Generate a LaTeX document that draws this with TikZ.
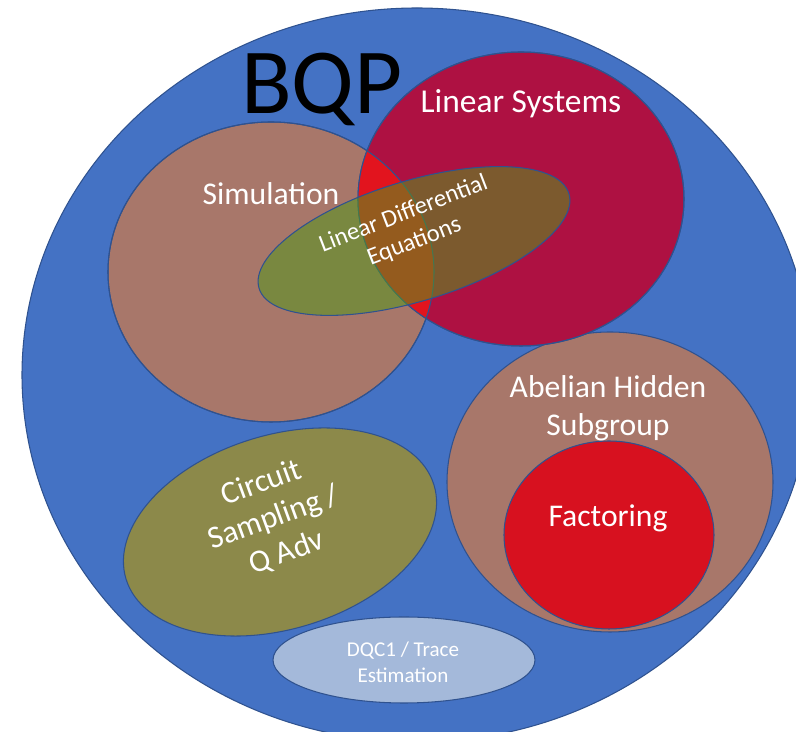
\documentclass[tikz,border=0pt]{standalone}
\usepackage{fontspec}
\setmainfont{Carlito}

\definecolor{bqpblue}{RGB}{68,114,196}
\definecolor{edge}{RGB}{47,82,143}
\definecolor{simbrown}{RGB}{168,119,106}
\definecolor{lincrimson}{RGB}{174,17,66}
\definecolor{lensred}{RGB}{226,20,30}
\definecolor{ldegreen}{RGB}{84,150,30}
\definecolor{facred}{RGB}{215,17,31}
\definecolor{circolive}{RGB}{140,137,74}
\definecolor{dqcblue}{RGB}{164,185,218}

\newcommand{\fs}[2]{\fontsize{#1}{#2}\selectfont}

\begin{document}
\begin{tikzpicture}[x=0.02cm,y=-0.02cm,
        region/.style={draw=edge,line width=0.6pt},
        lbl/.style={text=white,align=center,inner sep=0pt}]
        \useasboundingbox (0,0) rectangle (796,732);
        \fill[white] (0,0) rectangle (796,732);
        \clip (0,0) rectangle (796,732);

        % the whole class
        \filldraw[region,fill=bqpblue] (417,375) ellipse [x radius=395,y radius=367];

        % hidden subgroup with factoring inside
        \filldraw[region,fill=simbrown] (610,482) ellipse [x radius=163,y radius=150];
        \filldraw[region,fill=facred] (609,535) ellipse [x radius=105,y radius=94];

        % simulation and linear systems, overlap in red
        \filldraw[region,fill=simbrown] (271,272) ellipse [x radius=163,y radius=150];
        \filldraw[region,fill=lincrimson] (521,199) ellipse [x radius=163,y radius=147];
        \begin{scope}
            \clip (271,272) ellipse [x radius=163,y radius=150];
            \fill[lensred] (521,199) ellipse [x radius=163,y radius=147];
        \end{scope}
        \draw[region] (271,272) ellipse [x radius=163,y radius=150];
        \draw[region] (521,199) ellipse [x radius=163,y radius=147];

        % linear ODEs across both
        \filldraw[region,fill=ldegreen,fill opacity=0.55,rotate around={17:(414,241)}]
            (414,241) ellipse [x radius=162,y radius=60];

        % sampling and DQC1
        \filldraw[region,fill=circolive,rotate around={17:(280,532)}]
            (280,532) ellipse [x radius=161,y radius=97];
        \filldraw[region,fill=dqcblue] (404,660) ellipse [x radius=131,y radius=43];

        % labels
        \node[font=\fs{53}{60},anchor=base,inner sep=0pt] (bqp) at (322,114) {BQP};
        \node[lbl,font=\fs{19}{23},anchor=base] (linsys) at (521,113) {Linear Systems};
        \node[lbl,font=\fs{18}{22},anchor=base] (sim) at (271,205) {Simulation};
        \node[lbl,font=\fs{14}{17},rotate=21] (lde) at (409,228) {Linear Differential\\Equations};
        \node[lbl,font=\fs{18}{21.6}] (ahs) at (608,408) {Abelian Hidden\\Subgroup};
        \node[lbl,font=\fs{18}{22},anchor=base] (fac) at (608,527) {Factoring};
        \node[lbl,font=\fs{18}{21},rotate=20] (circ) at (274,518) {Circuit\\Sampling /\\Q Adv};
        \node[lbl,font=\fs{12}{14.8}] (dqc) at (403,662) {DQC1 / Trace\\Estimation};
    \end{tikzpicture}
\end{document}
